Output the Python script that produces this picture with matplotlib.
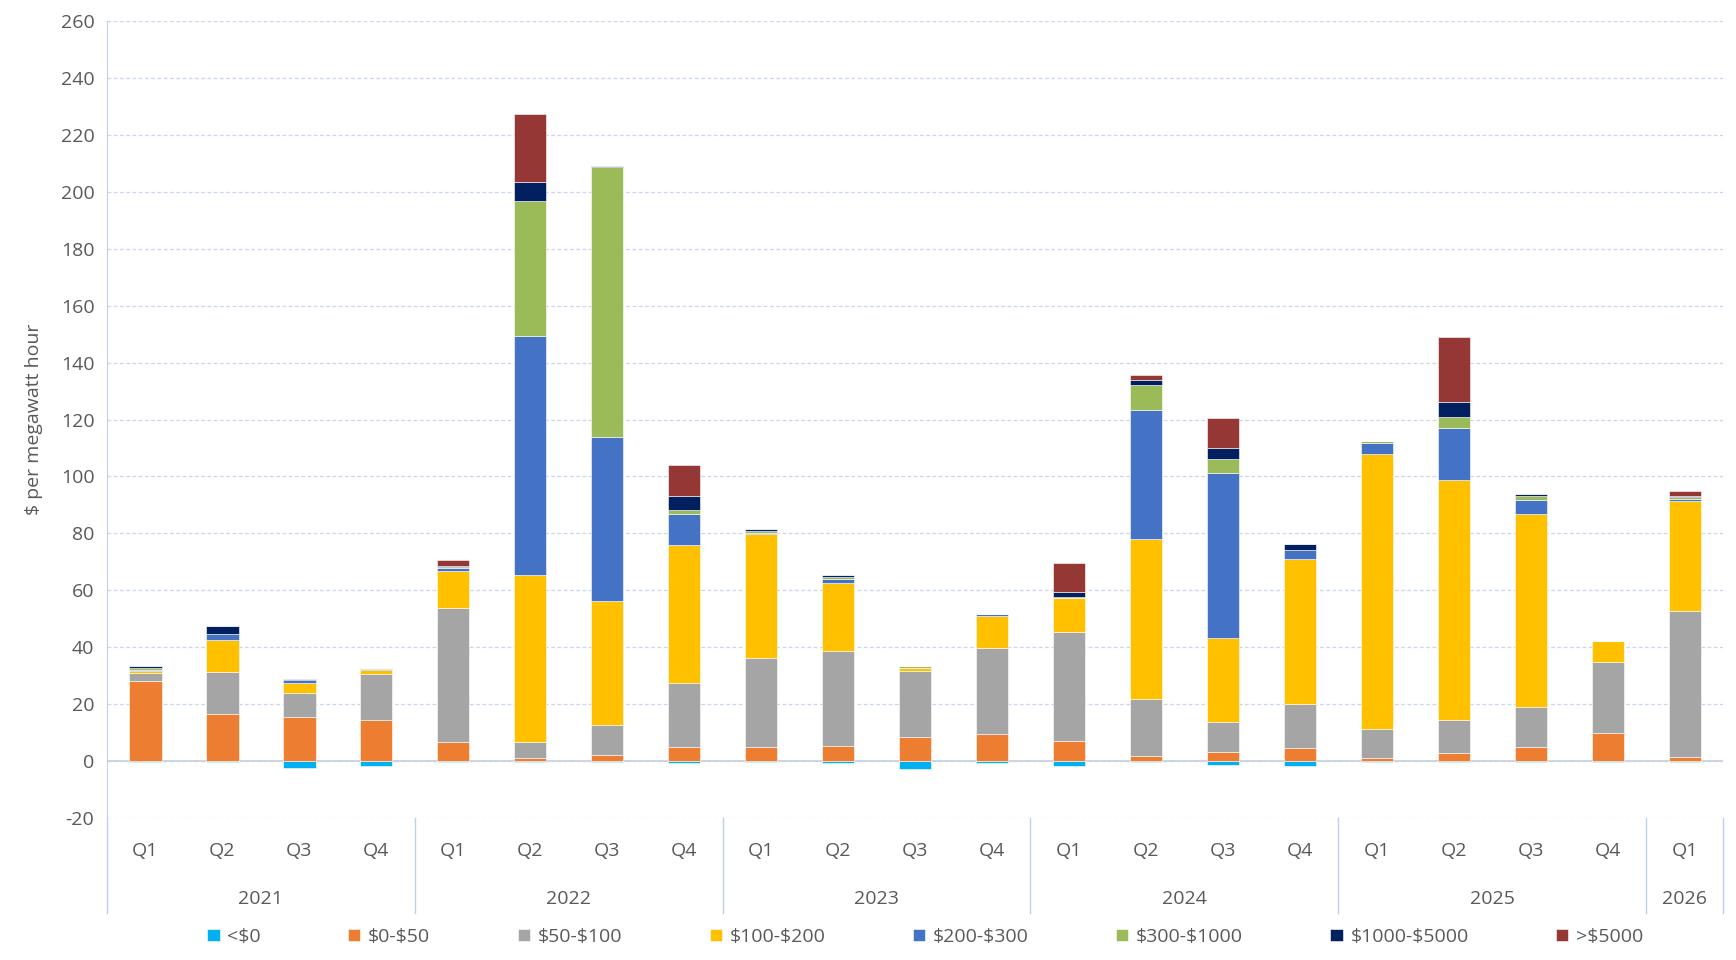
import numpy as np
import matplotlib.pyplot as plt
import matplotlib.transforms as mtransforms

plt.rcParams['font.family'] = ['Open Sans', 'DejaVu Sans']
plt.rcParams['axes.unicode_minus'] = False

years = ["2021", "2022", "2023", "2024", "2025", "2026"]
quarters = ["Q1", "Q2", "Q3", "Q4"] * 5 + ["Q1"]
series_names = [r"<\$0", r"\$0-\$50", r"\$50-\$100", r"\$100-\$200", r"\$200-\$300",
                r"\$300-\$1000", r"\$1000-\$5000", r">\$5000"]
colors = ["#00B0F0", "#ED7D31", "#A5A5A5", "#FFC000", "#4472C4",
          "#9BBB59", "#002060", "#953735"]

below_0 = [-0.5, -0.5, -2.3, -1.9, -0.4, -0.5, -0.4, -0.8, -0.4, -0.6, -2.8,
           -0.6, -1.6, -0.5, -1.3, -1.7, -0.5, -0.5, -0.5, -0.5, -0.5]
p0_50 = [28.1, 16.6, 15.6, 14.5, 6.6, 1.2, 2.0, 5.0, 4.9, 5.3, 8.4,
         9.5, 6.9, 1.6, 3.2, 4.7, 1.0, 2.8, 4.9, 9.9, 1.4]
p50_100 = [2.8, 14.8, 8.4, 16.2, 47.3, 5.4, 10.7, 22.3, 31.3, 33.4, 23.1,
           30.2, 38.4, 20.2, 10.5, 15.3, 10.2, 11.6, 14.2, 25.0, 51.2]
p100_200 = [0.9, 11.0, 3.3, 1.2, 13.0, 58.8, 43.4, 48.6, 43.4, 24.0, 1.1,
            11.3, 11.9, 56.2, 29.6, 51.0, 96.6, 84.4, 67.7, 7.1, 38.9]
p200_300 = [0.3, 2.1, 1.1, 0.4, 0.8, 84.0, 57.8, 10.8, 0.6, 1.3, 0.1,
            0.5, 0.1, 45.5, 57.8, 3.2, 3.8, 18.2, 4.9, 0.0, 0.4]
p300_1000 = [0.5, 0.1, 0.1, 0.3, 0.4, 47.5, 95.0, 1.4, 0.6, 0.6, 0.6,
             0.1, 0.3, 8.8, 5.0, 0.1, 0.8, 3.8, 1.3, 0.0, 0.8]
p1000_5000 = [0.7, 2.8, 0.4, 0.1, 0.3, 6.5, 0.3, 5.2, 0.6, 0.6, 0.0,
              0.0, 1.8, 1.6, 4.0, 2.0, 0.0, 5.5, 0.9, 0.0, 0.4]
above_5000 = [0.0, 0.0, 0.0, 0.0, 2.1, 24.0, 0.0, 10.6, 0.0, 0.0, 0.0,
              0.0, 10.2, 1.7, 10.4, 0.0, 0.0, 22.6, 0.0, 0.0, 1.8]

positive = [p0_50, p50_100, p100_200, p200_300, p300_1000, p1000_5000, above_5000]

fig = plt.figure(figsize=(17.36, 9.6), dpi=100)
ax = fig.add_axes([0.0616, 0.148, 0.931, 0.830])

x = np.arange(len(quarters))
w = 0.42
txt = "#595959"
fs = 14

ax.bar(x, below_0, w, color=colors[0], edgecolor="white", linewidth=0.4,
       label=series_names[0], zorder=3)
bottom = np.zeros(len(x))
for vals, c, name in zip(positive, colors[1:], series_names[1:]):
    ax.bar(x, vals, w, bottom=bottom, color=c, edgecolor="white", linewidth=0.4,
           label=name, zorder=3)
    bottom += np.array(vals)

ax.set_xlim(-0.5, len(x) - 0.5)
ax.set_ylim(-20, 260)
ax.set_yticks(np.arange(-20, 261, 20))
ax.tick_params(axis="y", length=0, labelsize=fs, labelcolor=txt, pad=9)
ax.yaxis.grid(True, color="#C9D7EE", linestyle=(0, (3, 2)), linewidth=0.9, zorder=0)
ax.axhline(0, color="#C8D0DC", linewidth=1.2, zorder=2)
ax.set_xticks([])
for s in ["top", "right", "bottom"]:
    ax.spines[s].set_visible(False)
ax.spines["left"].set_color("#BDD0EA")
ax.set_ylabel("$ per megawatt hour", fontsize=fs, color=txt)
ax.yaxis.set_label_coords(-0.0395, 0.5)

# multi-level category axis
trans = mtransforms.blended_transform_factory(ax.transData, ax.transAxes)
for i, q in enumerate(quarters):
    ax.text(i, -0.042, q, transform=trans, ha="center", va="center",
            fontsize=fs, color=txt)
starts = [0, 4, 8, 12, 16, 20]
ends = [4, 8, 12, 16, 20, 21]
for yr, s, e in zip(years, starts, ends):
    ax.text((s + e - 1) / 2, -0.102, yr, transform=trans, ha="center",
            va="center", fontsize=fs, color=txt)
for b in [-0.5, 3.5, 7.5, 11.5, 15.5, 19.5, 20.5]:
    ax.plot([b, b], [0, -0.119], transform=trans, color="#BDD0EA",
            linewidth=1.0, clip_on=False)

fig.legend(loc="center", bbox_to_anchor=(0.533, 0.024), ncol=8, frameon=False,
           handlelength=0.62, handleheight=0.62, handletextpad=0.4,
           columnspacing=4.5, fontsize=fs, labelcolor=txt)

fig.savefig("out.png", dpi=100)
